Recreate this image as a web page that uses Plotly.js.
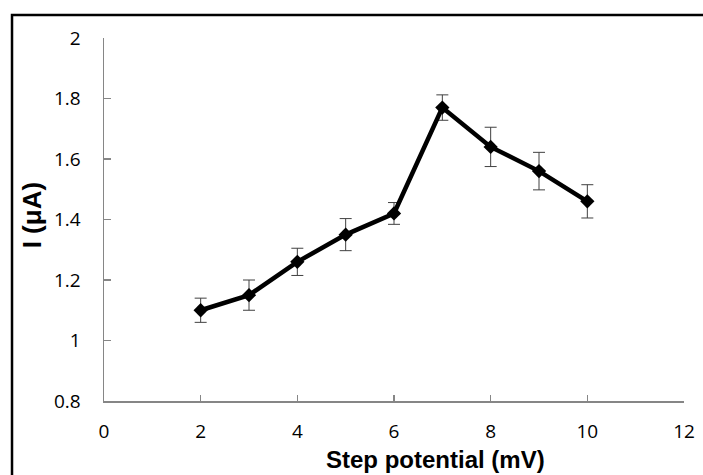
<!DOCTYPE html>
<html>
<head>
<meta charset="utf-8">
<script src="https://cdn.plot.ly/plotly-3.0.1.min.js"></script>
<style>
  html, body { margin: 0; padding: 0; background: #fff; }
  #chart { width: 703px; height: 475px; }
</style>
</head>
<body>
<div id="chart"></div>
<script>
// Data
const stepPotential = [2, 3, 4, 5, 6, 7, 8, 9, 10];          // mV
const current      = [1.10, 1.15, 1.26, 1.35, 1.42, 1.77, 1.64, 1.56, 1.46]; // µA
const currentError = [0.04, 0.05, 0.045, 0.053, 0.036, 0.042, 0.065, 0.062, 0.055];
const xTitle = 'Step potential (mV)';
const yTitle = 'I (μA)';

const trace = {
  x: stepPotential,
  y: current,
  type: 'scatter',
  mode: 'lines+markers',
  line: { color: '#000000', width: 4.5 },
  marker: { symbol: 'diamond', size: 11, color: '#000000' },
  error_y: {
    type: 'data',
    array: currentError,
    visible: true,
    color: '#404040',
    thickness: 1,
    width: 6
  },
  hoverinfo: 'x+y'
};

const axisColor = '#868686';
const tickFont = { family: 'Open Sans, Noto Sans, sans-serif', size: 19, color: '#000000' };

const layout = {
  width: 703,
  height: 475,
  margin: { l: 104, r: 19, t: 38, b: 74, pad: 0 },
  paper_bgcolor: '#ffffff',
  plot_bgcolor: '#ffffff',
  showlegend: false,
  xaxis: {
    range: [0, 12],
    dtick: 2,
    tick0: 0,
    showgrid: false,
    zeroline: false,
    showline: true,
    linecolor: axisColor,
    linewidth: 1.5,
    ticks: 'inside',
    ticklen: 6,
    tickwidth: 1.5,
    tickcolor: axisColor,
    tickfont: tickFont,
    ticklabelstandoff: 13
  },
  yaxis: {
    range: [0.8, 2],
    dtick: 0.2,
    tick0: 0.8,
    showgrid: false,
    zeroline: false,
    showline: true,
    linecolor: axisColor,
    linewidth: 1.5,
    ticks: 'inside',
    ticklen: 7,
    tickwidth: 1.5,
    tickcolor: axisColor,
    tickfont: tickFont,
    ticklabelstandoff: 18
  },
  annotations: [
    {
      text: '<b>' + xTitle + '</b>',
      xref: 'paper', yref: 'paper',
      x: 0.572, y: -0.1598,
      xanchor: 'center', yanchor: 'middle',
      showarrow: false,
      font: { family: 'Liberation Sans, Arial, sans-serif', size: 24, color: '#000000' }
    },
    {
      text: '<b>' + yTitle + '</b>',
      xref: 'paper', yref: 'paper',
      x: -0.125, y: 0.51,
      xanchor: 'center', yanchor: 'middle',
      textangle: -90,
      showarrow: false,
      font: { family: 'Liberation Sans, Arial, sans-serif', size: 26, color: '#000000' }
    }
  ],
  shapes: [
    {
      type: 'rect',
      xref: 'paper', yref: 'paper',
      x0: -0.1586, x1: 1.05,
      y0: -0.35, y1: 1.0634,
      line: { color: '#000000', width: 2.5 },
      fillcolor: 'rgba(0,0,0,0)'
    }
  ]
};

Plotly.newPlot('chart', [trace], layout, { displayModeBar: false, staticPlot: true });
</script>
</body>
</html>
